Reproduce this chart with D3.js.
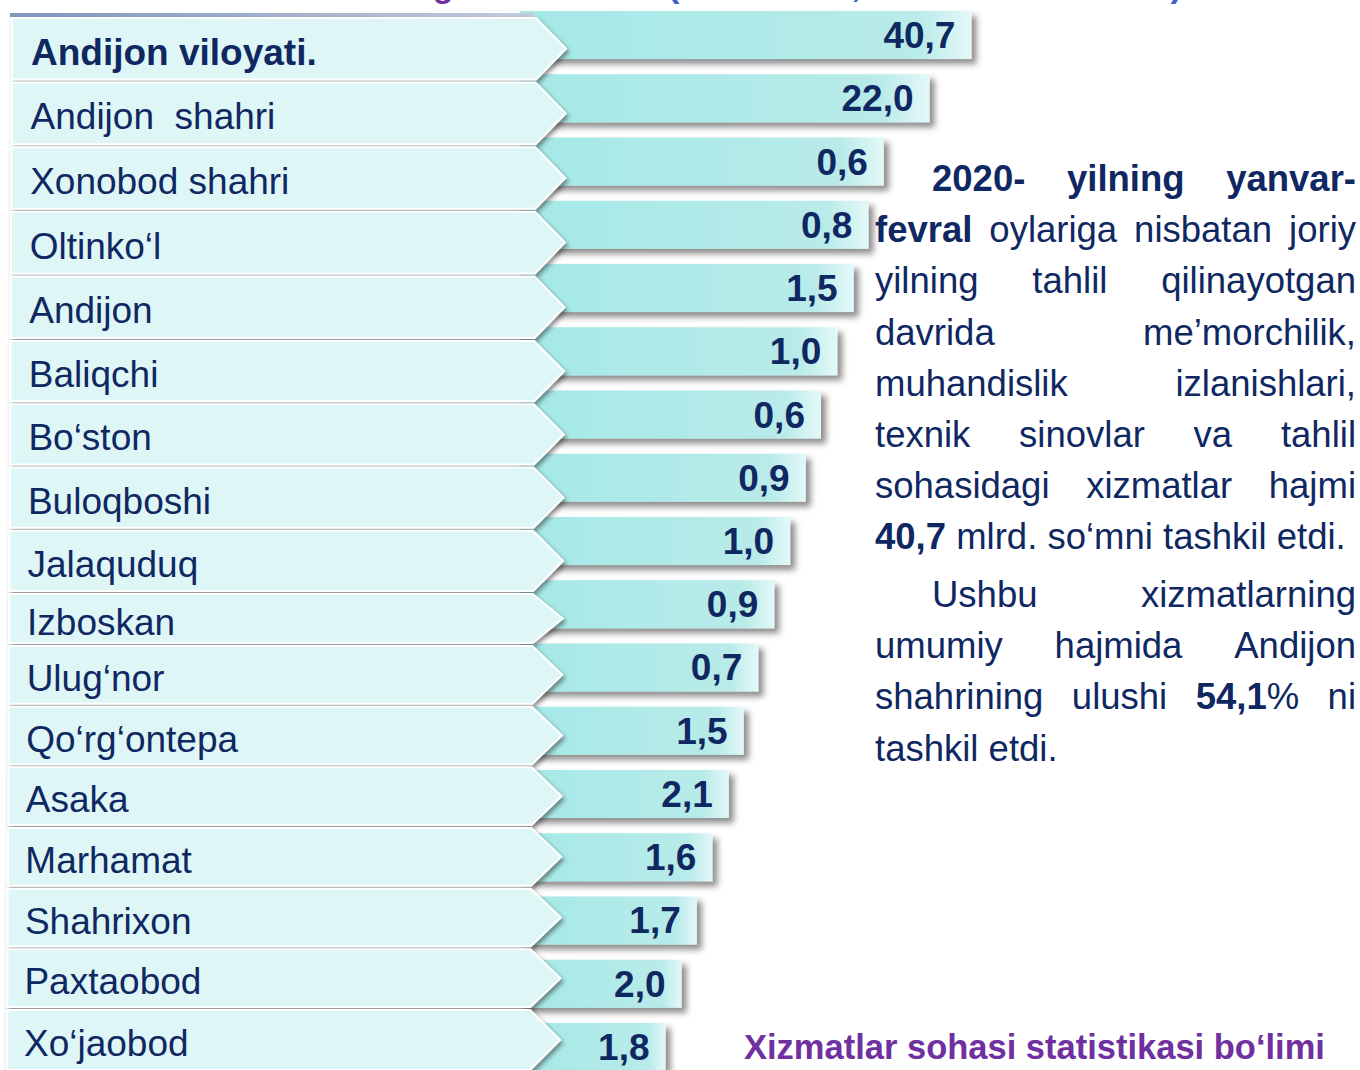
<!DOCTYPE html>
<html><head><meta charset="utf-8">
<script src="https://cdn.jsdelivr.net/npm/d3@7"></script>
<style>html,body{margin:0;padding:0;background:#fff;} svg{display:block;}</style>
</head><body>
<svg id="chart" width="1360" height="1070"></svg>
<script>
// ---------- data ----------
const categories = ["Andijon viloyati.", "Andijon  shahri", "Xonobod shahri", "Oltinko‘l", "Andijon",
  "Baliqchi", "Bo‘ston", "Buloqboshi", "Jalaquduq", "Izboskan", "Ulug‘nor", "Qo‘rg‘ontepa",
  "Asaka", "Marhamat", "Shahrixon", "Paxtaobod", "Xo‘jaobod"];
const values = [40.7, 22.0, 0.6, 0.8, 1.5, 1.0, 0.6, 0.9, 1.0, 0.9, 0.7, 1.5, 2.1, 1.6, 1.7, 2.0, 1.8];
const titleMain = "Ko‘rsatilgan xizmatlar";
const titleUnit = "(mlrd. so‘m, hududlar kesimida)";
const paragraph1 = [
  ["**2020-**", "**yilning**", "**yanvar-**"],
  ["**fevral**", "oylariga", "nisbatan", "joriy"],
  ["yilning", "tahlil", "qilinayotgan"],
  ["davrida", "me’morchilik,"],
  ["muhandislik", "izlanishlari,"],
  ["texnik", "sinovlar", "va", "tahlil"],
  ["sohasidagi", "xizmatlar", "hajmi"],
  ["**40,7**", "mlrd.", "so‘mni", "tashkil", "etdi."]
];
const paragraph2 = [
  ["Ushbu", "xizmatlarning"],
  ["umumiy", "hajmida", "Andijon"],
  ["shahrining", "ulushi", "**54,1**%", "ni"],
  ["tashkil", "etdi."]
];
const footer = "Xizmatlar sohasi statistikasi bo‘limi";

// ---------- setup ----------
const FONT = "'Liberation Sans', Arial, sans-serif";
const NAVY = "#0f2862";
const svg = d3.select("#chart");
const n = categories.length;
const idx = d3.range(n);
const fmt = v => d3.format(".1f")(v).replace(".", ",");

const defs = svg.append("defs");
const barGrad = defs.append("linearGradient").attr("id", "barGrad").attr("x1", 0).attr("x2", 1).attr("y1", 0).attr("y2", 0);
barGrad.append("stop").attr("offset", "0").attr("stop-color", "#a4e9e7");
barGrad.append("stop").attr("offset", "0.88").attr("stop-color", "#b8ebe9");
barGrad.append("stop").attr("offset", "1").attr("stop-color", "#e4f8f8");
const topGrad = defs.append("linearGradient").attr("id", "topGrad").attr("x1", 0).attr("x2", 1);
topGrad.append("stop").attr("offset", "0").attr("stop-color", "#8195c0");
topGrad.append("stop").attr("offset", "1").attr("stop-color", "#c3ccdb");
const f1 = defs.append("filter").attr("id", "barShadow").attr("x", "-5%").attr("y", "-30%").attr("width", "115%").attr("height", "180%");
f1.append("feDropShadow").attr("dx", 5).attr("dy", 5).attr("stdDeviation", 3).attr("flood-color", "#000").attr("flood-opacity", 0.45);
const f2 = defs.append("filter").attr("id", "boxShadow").attr("x", "-5%").attr("y", "-30%").attr("width", "115%").attr("height", "170%");
f2.append("feDropShadow").attr("dx", 2).attr("dy", 3).attr("stdDeviation", 2).attr("flood-color", "#222").attr("flood-opacity", 0.5);

// scales
const yBar = d3.scaleBand().domain(idx).range([11, 1071]).paddingInner(0.241).paddingOuter(0);
// box tops follow the slightly uneven slide layout (piecewise linear scale)
const yBoxTop = d3.scaleLinear().domain([0, 5, 9, 10, 16, 17]).range([18, 341, 594, 646, 1010, 1073]);
const boxTop = i => yBoxTop(i);
const boxBottom = i => yBoxTop(i + 1) - 3;
const xIdx = d3.scaleLinear().domain([2, 16]).range([883, 663]);
const xVal = d3.scaleLinear().domain([0, 40.7]).range([0, 57]);
const barEnd = i => xIdx(i) + xVal(values[i]);
const xLeft = d3.scaleLinear().domain([0, n - 1]).range([12, 7]);
const xTip = d3.scaleLinear().domain([0, n - 1]).range([566, 560]);
const xLabel = d3.scaleLinear().domain([0, n - 1]).range([31, 24]);
const BAR_X0 = 520;

// cut-off title at top
svg.append("text").attr("x", 650).attr("y", -3).attr("text-anchor", "end")
  .style("font-family", FONT).style("font-weight", "bold").style("font-size", "34px").attr("fill", "#7030a0").text(titleMain);
svg.append("text").attr("x", 668).attr("y", -3)
  .style("font-family", FONT).style("font-weight", "bold").style("font-size", "34px").attr("fill", "#3b63c9").text(titleUnit);

// bars
svg.append("g").selectAll("rect").data(idx).join("rect")
  .attr("x", BAR_X0).attr("y", i => yBar(i))
  .attr("width", i => barEnd(i) - BAR_X0).attr("height", yBar.bandwidth())
  .attr("fill", "url(#barGrad)").attr("filter", "url(#barShadow)");

// value labels
svg.append("g").selectAll("text").data(idx).join("text")
  .attr("x", i => barEnd(i) - 16).attr("y", i => yBar(i) + yBar.bandwidth() / 2 + 13)
  .attr("text-anchor", "end")
  .style("font-family", FONT).style("font-weight", "bold").style("font-size", "37px")
  .attr("fill", NAVY).text(i => fmt(values[i]));

// top header line
svg.append("rect").attr("x", xLeft(0) - 2).attr("y", 13).attr("width", xTip(0) - 30 - xLeft(0)).attr("height", 4).attr("fill", "url(#topGrad)");

// arrow boxes
const boxPath = i => {
  const L = xLeft(i), T = xTip(i), R = T - 30, t = boxTop(i), b = boxBottom(i), m = (t + b) / 2;
  return `M${L},${t}L${R},${t}L${T},${m}L${R},${b}L${L},${b}Z`;
};
svg.append("g").selectAll("path").data(idx).join("path")
  .attr("d", boxPath).attr("fill", "#dff6f7").attr("stroke", "#ffffff").attr("stroke-width", 2)
  .attr("filter", "url(#boxShadow)");

// category labels
svg.append("g").selectAll("text").data(idx).join("text")
  .attr("x", i => xLabel(i)).attr("y", i => (boxTop(i) + boxBottom(i)) / 2 + 16)
  .style("font-family", FONT).style("font-size", "37px").style("white-space", "pre")
  .style("font-weight", i => i === 0 ? "bold" : "normal")
  .attr("fill", NAVY).text(i => categories[i]);

// justified paragraph
const P_LEFT = 875, P_RIGHT = 1356, INDENT = 57, LINE_H = 51.2, PFS = 36.5;
function drawParagraph(lines, y0) {
  lines.forEach((words, li) => {
    const y = y0 + li * LINE_H;
    const start = P_LEFT + (li === 0 ? INDENT : 0);
    const nodes = words.map(w => {
      const t = svg.append("text").attr("y", y).style("font-family", FONT).style("font-size", PFS + "px").attr("fill", NAVY);
      w.split("**").forEach((part, k) => {
        if (part.length) t.append("tspan").style("font-weight", k % 2 ? "bold" : "normal").text(part);
      });
      return t;
    });
    const widths = nodes.map(t => t.node().getComputedTextLength());
    const total = d3.sum(widths);
    const last = li === lines.length - 1;
    const gap = (last || words.length < 2) ? PFS * 0.278 : (P_RIGHT - start - total) / (words.length - 1);
    let x = start;
    nodes.forEach((t, k) => { t.attr("x", x); x += widths[k] + gap; });
  });
}
drawParagraph(paragraph1, 191);
drawParagraph(paragraph2, 607);

// footer
svg.append("text").attr("x", 744).attr("y", 1059)
  .style("font-family", FONT).style("font-weight", "bold").style("font-size", "34.5px")
  .attr("fill", "#7030a0").text(footer);
</script>
</body></html>
